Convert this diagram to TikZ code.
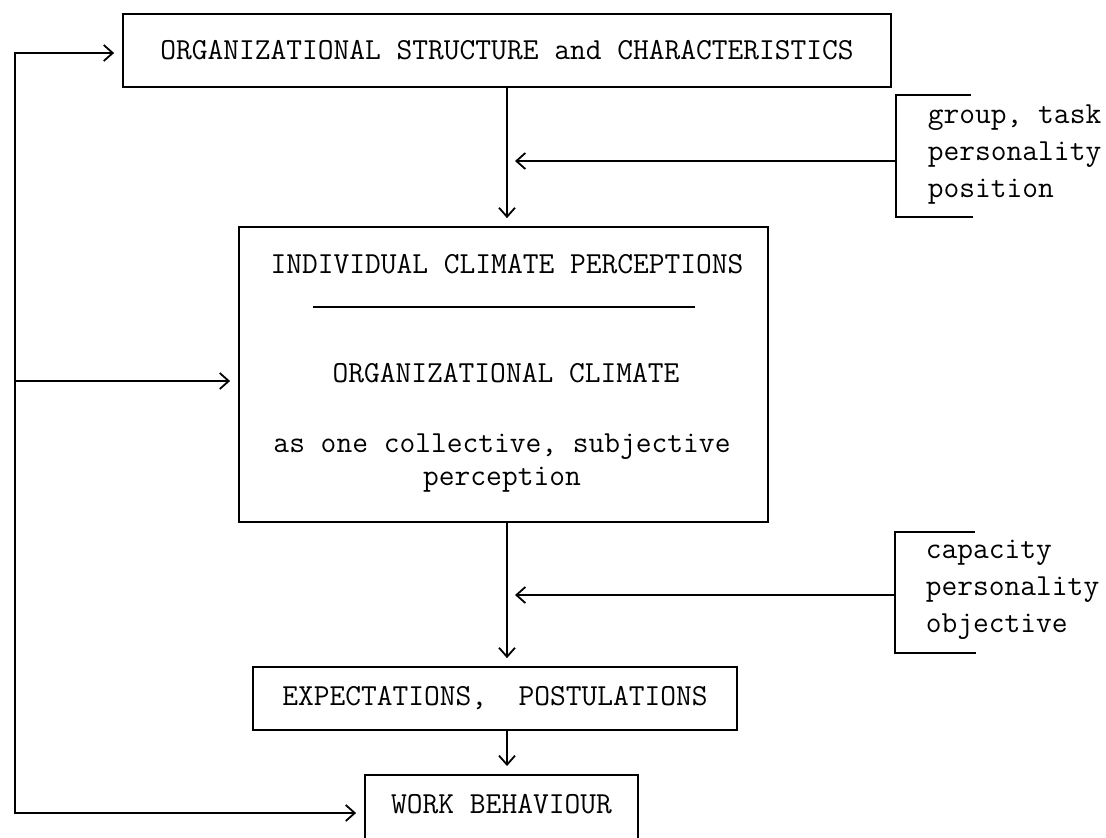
\documentclass[tikz,border=0pt]{standalone}
\usetikzlibrary{arrows.meta}

\begin{document}
\begin{tikzpicture}[
    x=0.5pt, y=-0.5pt,
    line width=0.9pt,
    >={Straight Barb[length=4.5pt,width=8pt]},
    every node/.style={font=\fontsize{15.3}{16.5}\selectfont\ttfamily},
    block/.style={rectangle, draw, line width=0.9pt, inner sep=0pt},
    txt/.style={inner sep=0pt, anchor=base},
    influence/.style={inner sep=0pt, anchor=base west, align=left,
    font=\fontsize{15.3}{18.3}\selectfont\ttfamily},
    arrow/.style={->, shorten >=4pt}
]
\useasboundingbox (0,0) rectangle (1106,837);
\clip (0,0) rectangle (1106,837);

% ---------------- BOXES ----------------
\node[block, minimum width=384pt, minimum height=36.5pt] (orgs) at (507,50.5)
{ORGANIZATIONAL STRUCTURE and CHARACTERISTICS};

\node[block, minimum width=264.5pt, minimum height=147.5pt] (climate)
at (503.5,374.5) {};
\node[txt] (indiv) at (507,273) {INDIVIDUAL CLIMATE PERCEPTIONS};
\draw (313,307) -- (695,307);
\node[txt] (orgclim) at (506,382) {ORGANIZATIONAL CLIMATE};
\node[txt, align=center] (collect) at (502,485)
{as one collective, subjective\\perception};

\node[block, minimum width=242pt, minimum height=31.5pt] (expect)
at (495,698.5) {EXPECTATIONS,\ \ POSTULATIONS};

\node[block, anchor=north, minimum width=136.5pt, text height=19.5pt,
text depth=20pt] (work) at (501.5,774) {WORK BEHAVIOUR};

% ---------------- INFLUENCES ----------------
\node[influence] (infl1) at (927,197) {group, task\\personality\\position};
\draw (971,95) -- (896,95) -- (896,217) -- (973,217);

\node[influence] (infl2) at (925,632) {capacity\\personality\\objective};
\draw (975,532) -- (895,532) -- (895,653) -- (976,653);

\coordinate (from1) at (896,161);
\coordinate (from2) at (895,595);

% ---------------- ARROWS ----------------
\draw[arrow] (orgs.south) -- (orgs.south |- climate.north);
\draw[arrow] (climate.south -| orgs) -- (expect.north -| orgs);
\draw[arrow] (expect.south -| orgs) -- (work.north -| orgs);

\draw[arrow] (from1) -- (from1 -| orgs);
\draw[arrow] (from2) -- (from2 -| orgs);

% feedback line
\coordinate (busTop) at (15,53);
\coordinate (busMid) at (15,381);
\coordinate (busBot) at (15,813);

\draw[arrow] (busMid) -- (busTop) -- (busTop -| orgs.west);
\draw[arrow] (busMid) -- (busMid -| climate.west);
\draw[arrow] (busMid) -- (busBot) -- (busBot -| work.west);

\end{tikzpicture}
\end{document}
